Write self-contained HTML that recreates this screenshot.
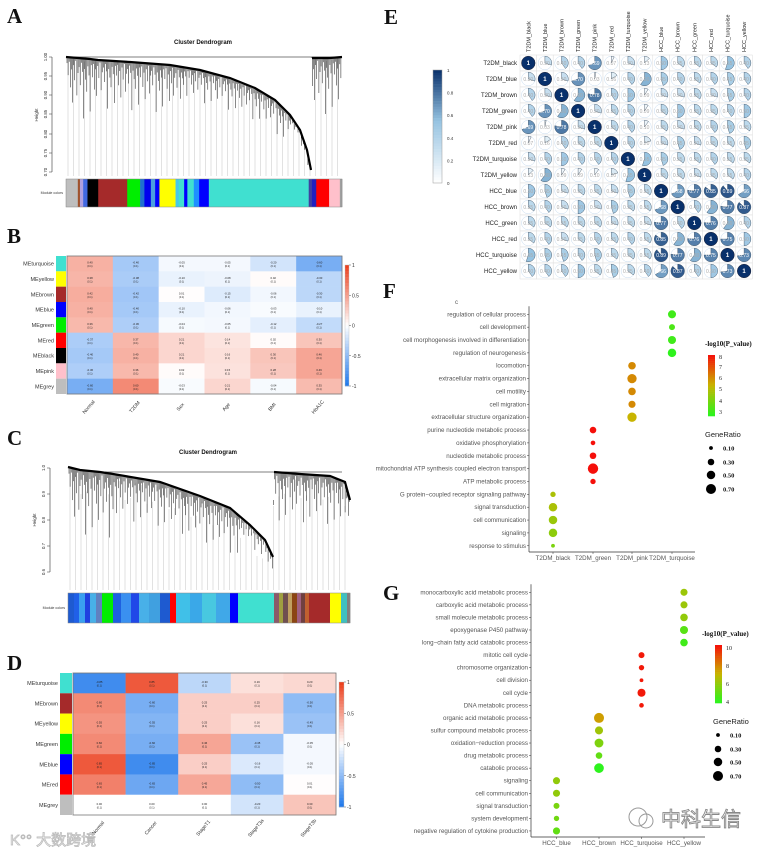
<!DOCTYPE html>
<html><head><meta charset="utf-8">
<style>
html,body{margin:0;padding:0;background:#fff;}
svg{display:block;font-family:"Liberation Sans",Arial,sans-serif;}
.lbl{font-family:"Liberation Serif",serif;font-weight:bold;font-size:21px;fill:#111;}
</style></head>
<body>
<svg id="fig" width="762" height="852" viewBox="0 0 762 852">
<rect width="762" height="852" fill="#fff"/>
<text class="lbl" x="7" y="23">A</text>
<text class="lbl" x="7" y="243">B</text>
<text class="lbl" x="7" y="445">C</text>
<text class="lbl" x="7" y="670">D</text>
<text class="lbl" x="384" y="24">E</text>
<text class="lbl" x="383" y="298">F</text>
<text class="lbl" x="383" y="600">G</text>
<g id="gA"></g>
<g id="gB"></g>
<g id="gC"></g>
<g id="gD"></g>
<g id="gE"></g>
<g id="gF"></g>
<g id="gG"></g>
<g>
<text x="10" y="845" font-size="15" fill="none" stroke="#bbb" stroke-width="0.8" font-family="'Liberation Sans','Noto Sans CJK SC',sans-serif">K°° 大数跨境</text>
</g>
<g>
<circle cx="638" cy="817" r="9" fill="none" stroke="#999" stroke-width="1"/>
<circle cx="646" cy="821" r="7" fill="none" stroke="#999" stroke-width="1"/>
<text x="661" y="826" font-size="20" fill="none" stroke="#888" stroke-width="0.9" font-family="'Liberation Sans','Noto Sans CJK SC',sans-serif">中科生信</text>
</g>
</svg>
<script>
// ---------- data ----------
const moduleA = [["#bebebe",11],["#a0522d",2],["#b0a0e0",3],["#4169e1",4],["#000000",10],["#a52a2a",3],["#a52a2a",24],["#00ee00",12],["#1e6fd0",4],["#0000ee",6],["#4aa0e0",4],["#0000ff",4],["#ffff00",15],["#48c9e8",3],["#40e0d0",5],["#0000ff",3],["#40e0d0",6],["#1e90ff",5],["#0000ff",9],["#40e0d0",93],["#4040a0",3],["#2020c0",4],["#ff0000",12],["#ffc0cb",10],["#a0a0a0",2]];
const moduleC = [["#1e5ad0",6],["#2060e8",5],["#3aa0f0",6],["#2040e0",5],["#48b0e8",6],["#6080c0",6],["#00ee00",11],["#1e60e0",8],["#3a90f0",10],["#2048e8",8],["#48b0e8",10],["#40a0e0",11],["#1e5ad0",10],["#ff0000",6],["#40c0e8",14],["#3aa8e8",12],["#48c8e0",14],["#40a8e8",14],["#0000ff",8],["#40e0d0",36],["#8b5a6a",5],["#a0a040",4],["#705050",5],["#c0a060",4],["#8b4513",5],["#a06080",4],["#704040",4],["#c06030",4],["#a52a2a",4],["#a52a2a",17],["#ffff00",11],["#40c0c0",6],["#808080",3]];

const rowsB = ["MEturquoise","MEyellow","MEbrown","MEblue","MEgreen","MEred","MEblack","MEpink","MEgrey"];
const rowColB = ["#40e0d0","#ffff00","#a52a2a","#0000ff","#00ee00","#ff0000","#000000","#ffc0cb","#bebebe"];
const colsB = ["Normal","T2DM","Sex","Age","BMI","HbA1C"];
const valsB = [
 [0.4,-0.4,-0.05,-0.05,-0.2,-0.6],
 [0.38,-0.38,-0.1,-0.08,0.02,-0.3],
 [0.42,-0.42,0.01,-0.15,-0.06,-0.3],
 [0.4,-0.4,-0.1,-0.06,-0.03,-0.1],
 [0.36,-0.36,-0.04,-0.05,-0.12,-0.27],
 [-0.37,0.37,0.21,0.14,0.02,0.3],
 [-0.4,0.4,0.21,0.16,0.3,0.46],
 [-0.36,0.36,0.02,0.15,0.28,0.46],
 [-0.6,0.6,-0.03,0.21,-0.04,0.35]];

const rowsD = ["MEturquoise","MEbrown","MEyellow","MEgreen","MEblue","MEred","MEgrey"];
const rowColD = ["#40e0d0","#a52a2a","#ffff00","#00ee00","#0000ff","#ff0000","#bebebe"];
const colsD = ["Normal","Cancer","StageT1","StageT3a","StageT3b"];
const valsD = [
 [-0.85,0.85,-0.3,0.16,0.2],
 [0.6,-0.6,0.25,0.25,-0.5],
 [0.55,-0.55,0.25,0.16,-0.45],
 [0.6,-0.6,0.46,-0.45,-0.05],
 [0.85,-0.85,0.25,-0.16,-0.05],
 [0.65,-0.65,0.45,-0.5,0.01],
 [0.0,0.0,0.0,-0.2,0.3]];
const scaleTicks = ["1","0.5","0","-0.5","-1"];

const namesE = ["T2DM_black","T2DM_blue","T2DM_brown","T2DM_green","T2DM_pink","T2DM_red","T2DM_turquoise","T2DM_yellow","HCC_blue","HCC_brown","HCC_green","HCC_red","HCC_turquoise","HCC_yellow"];
const corrE = [
 [1,0.3,0.4,0.4,0.69,0.07,0.3,0.13,0.5,0.35,0.35,0.35,0.55,0.4],
 [0.3,1,0.3,0.7,0.03,0.16,0.4,0.6,0.45,0.4,0.35,0.4,0.45,0.4],
 [0.4,0.3,1,0.6,0.78,0.4,0.5,0.09,0.3,0.3,0.35,0.3,0.45,0.4],
 [0.4,0.7,0.6,1,0.3,0.35,0.4,0.09,0.35,0.5,0.35,0.35,0.4,0.5],
 [0.69,0.03,0.78,0.3,1,0.35,0.4,0.1,0.35,0.3,0.35,0.4,0.45,0.35],
 [0.07,0.16,0.4,0.35,0.35,1,0.4,0.2,0.3,0.45,0.3,0.35,0.35,0.45],
 [0.3,0.4,0.5,0.4,0.4,0.4,1,0.55,0.45,0.35,0.35,0.4,0.35,0.35],
 [0.13,0.6,0.09,0.09,0.1,0.2,0.55,1,0.35,0.35,0.3,0.35,0.35,0.4],
 [0.5,0.45,0.3,0.35,0.35,0.3,0.45,0.35,1,0.68,0.77,0.85,0.89,0.66],
 [0.35,0.4,0.3,0.5,0.3,0.45,0.35,0.35,0.68,1,0.4,0.6,0.77,0.87],
 [0.35,0.35,0.35,0.35,0.35,0.3,0.35,0.3,0.77,0.4,1,0.76,0.6,0.4],
 [0.35,0.4,0.3,0.35,0.4,0.35,0.4,0.35,0.85,0.6,0.76,1,0.75,0.5],
 [0.55,0.45,0.45,0.4,0.45,0.35,0.35,0.35,0.89,0.77,0.6,0.75,1,0.73],
 [0.4,0.4,0.4,0.5,0.35,0.45,0.35,0.4,0.66,0.87,0.4,0.5,0.73,1]];
const ticksE = ["1","0.8","0.6","0.4","0.2","0"];

const groupsF = ["T2DM_black","T2DM_green","T2DM_pink","T2DM_turquoise"];
const termsF = ["regulation of cellular process","cell development","cell morphogenesis involved in differentiation","regulation of neurogenesis","locomotion","extracellular matrix organization","cell motility","cell migration","extracellular structure organization","purine nucleotide metabolic process","oxidative phosphorylation","nucleotide metabolic process","mitochondrial ATP synthesis coupled electron transport","ATP metabolic process","G protein\u2212coupled receptor signaling pathway","signal transduction","cell communication","signaling","response to stimulus"];
const groupIdxF = [3,3,3,3,2,2,2,2,2,1,1,1,1,1,0,0,0,0,0];
const ratioF = [0.45,0.25,0.45,0.5,0.4,0.6,0.4,0.35,0.6,0.3,0.15,0.3,0.75,0.2,0.2,0.5,0.5,0.5,0.1];
const pvalF = [3,3.2,3,2.7,6,6,6,6,5.3,8,8,8,8,8,4.8,4.8,4.5,4.3,4];
const legendPF = ["8","7","6","5","4","3"];

const groupsG = ["HCC_blue","HCC_brown","HCC_turquoise","HCC_yellow"];
const termsG = ["monocarboxylic acid metabolic process","carboxylic acid metabolic process","small molecule metabolic process","epoxygenase P450 pathway","long\u2212chain fatty acid catabolic process","mitotic cell cycle","chromosome organization","cell division","cell cycle","DNA metabolic process","organic acid metabolic process","sulfur compound metabolic process","oxidation\u2212reduction process","drug metabolic process","catabolic process","signaling","cell communication","signal transduction","system development","negative regulation of cytokine production"];
const groupIdxG = [3,3,3,3,3,2,2,2,2,2,1,1,1,1,1,0,0,0,0,0];
const ratioG = [0.35,0.35,0.4,0.45,0.4,0.25,0.2,0.1,0.45,0.15,0.7,0.45,0.55,0.3,0.65,0.35,0.35,0.25,0.2,0.35];
const pvalG = [6.2,6.2,6,4.8,4.3,10.3,10.3,10.3,10.3,10.3,7.6,6.3,5.6,5,3.9,6,6,5.5,5.3,5];
const legendPG = ["10","8","6","4"];
const ratioLegend = ["0.10","0.30","0.50","0.70"];
const ratioLegendVals = [0.1,0.3,0.5,0.7];

// ---------- helpers ----------
const NS = "http://www.w3.org/2000/svg";
function mk(tag, parent){ const e=document.createElementNS(NS,tag); parent.appendChild(e); return e; }
function set(e, o){ for(const k in o) e.setAttribute(k,o[k]); return e; }
function txt(parent, s, x, y, size, fill, anchor, extra){
  const t=mk("text",parent); set(t,{x:x,y:y,"font-size":size,fill:fill||"#333","text-anchor":anchor||"start"});
  if(extra) set(t,extra); t.textContent=s; return t;
}
function mix(a,b,t){ return "rgb("+a.map((v,i)=>Math.round(v+(b[i]-v)*t)).join(",")+")"; }
function divColor(v){ return v<0 ? mix([255,255,255],[30,120,235],Math.min(1,-v)) : mix([255,255,255],[235,60,25],Math.min(1,v)); }
function interp(pts,x){ for(let i=0;i<pts.length-1;i++){ if(x>=pts[i][0]&&x<=pts[i+1][0]){ const t=(x-pts[i][0])/(pts[i+1][0]-pts[i][0]); return pts[i][1]+t*(pts[i+1][1]-pts[i][1]); } } return pts[pts.length-1][1]; }

// ---------- dendrograms ----------
const dropPattern=[4,12,3,20,8,30,5,15,2,25,10,6,18,3,9,40,7,14,22,5,11,35];
function dendro(gid, cfg){
  const g=document.getElementById(gid);
  const title=txt(g,"Cluster Dendrogram",cfg.titleX,cfg.titleY,6,"#111","middle",{"font-weight":"bold"});
  
  
  const ax=mk("line",g); set(ax,{x1:cfg.axX,x2:cfg.axX,y1:cfg.ticks[0][1],y2:cfg.ticks[cfg.ticks.length-1][1],stroke:"#333","stroke-width":0.6});
  
  
  cfg.ticks.forEach(t=>{
    const l=mk("line",g); set(l,{x1:cfg.axX-3,x2:cfg.axX,y1:t[1],y2:t[1],stroke:"#333","stroke-width":0.5});
    txt(g,t[0],cfg.axX-5,t[1],4.3,"#333","middle",{transform:"rotate(-90 "+(cfg.axX-5)+" "+t[1]+")"});
  });
  const yl=txt(g,"Height",cfg.axX-14,cfg.hY,4.5,"#333","middle",{transform:"rotate(-90 "+(cfg.axX-14)+" "+cfg.hY+")"});
  
  
  for(let x=cfg.x0+2;x<cfg.x1;x+=5.5){
    const curve = x<=cfg.split ? cfg.left : cfg.right;
    const top=interp(curve,x)+dropPattern[Math.round(x)%dropPattern.length]*0.6;
    const l=mk("line",g); set(l,{x1:x,x2:x,y1:top,y2:cfg.leafBot,stroke:"#cfcfcf","stroke-width":0.6});
  }
  const tb=mk("line",g); set(tb,{x1:cfg.topBar[0],x2:cfg.topBar[1],y1:cfg.topBar[2],y2:cfg.topBar[2],stroke:"#555","stroke-width":0.7});
  let i=0;
  for(let x=cfg.x0+1;x<cfg.x1;x+=1.1){
    const curve = x<=cfg.split ? cfg.left : cfg.right;
    const y=interp(curve,x);
    const d=dropPattern[i%dropPattern.length]*cfg.dropScale(x);
    const l=mk("line",g); set(l,{x1:x,x2:x,y1:y,y2:y+d,stroke:"#111","stroke-width":0.5});
    i++;
  }
  [cfg.left,cfg.right].forEach(c=>{
    const p=mk("polyline",g); set(p,{points:c.map(q=>q.join(",")).join(" "),fill:"none",stroke:"#000","stroke-width":2.2});
  });
  const tot=cfg.mods.reduce((s,m)=>s+m[1],0);
  let cx=cfg.x0;
  cfg.mods.forEach(m=>{
    const w=m[1]/tot*(cfg.x1-cfg.x0);
    const r=mk("rect",g); set(r,{x:cx,y:cfg.barY,width:w+0.3,height:cfg.barH,fill:m[0]});
    
    
    cx+=w;
  });
  const ob=mk("rect",g); set(ob,{x:cfg.x0,y:cfg.barY,width:cfg.x1-cfg.x0,height:cfg.barH,fill:"none",stroke:"#888","stroke-width":0.5});
  const ml=txt(g,"Module colors",cfg.x0-3,cfg.barY+cfg.barH/2+1,3.6,"#333","end");
  
  
}
dendro("gA",{titleX:203,titleY:44,axX:52,hY:115,
  ticks:[["1.00",57],["0.95",76],["0.90",95],["0.85",114],["0.80",134],["0.75",153],["0.70",172]],
  x0:66,x1:342,split:311,leafBot:176,topBar:[66,342,57],
  left:[[66,57],[90,59],[98,60],[130,62],[170,65],[200,70],[230,78],[255,88],[275,100],[290,115],[300,130],[307,150],[311,170]],
  right:[[312,58],[330,58],[342,57]],
  dropScale:x=> x<95?1.5:(x<180?1.2:(x<290?0.8:(x<312?0.3:1.4))),
  mods:moduleA,barY:179,barH:28});
dendro("gC",{titleX:208,titleY:454,axX:50,hY:520,
  ticks:[["1.0",468],["0.9",494],["0.8",520],["0.7",546],["0.6",572]],
  x0:68,x1:350,split:273,leafBot:590,topBar:[105,342,472],
  left:[[68,467],[80,470],[100,472],[113,474],[160,482],[200,496],[230,508],[250,525],[265,540],[273,557]],
  right:[[274,472],[300,474],[330,476],[345,482],[350,500]],
  dropScale:x=> x<115?1.6:(x<240?1.1:(x<274?0.5:1.2)),
  mods:moduleC,barY:593,barH:30});

// ---------- heatmaps ----------
function heat(gid,cfg){
  const g=document.getElementById(gid);
  const nr=cfg.rows.length, nc=cfg.cols.length;
  const cw=(cfg.x1-cfg.x0)/nc, ch=(cfg.y1-cfg.y0)/nr;
  cfg.vals.forEach((row,r)=>{
    const sq=mk("rect",g); set(sq,{x:cfg.sx,y:cfg.y0+r*ch,width:cfg.x0-cfg.sx-1,height:ch,fill:cfg.rowCols[r]});
    
    
    const rl=txt(g,cfg.rows[r],cfg.sx-2,cfg.y0+r*ch+ch/2+2,5.5,"#333","end");
    
    
    row.forEach((v,c)=>{
      const cell=mk("rect",g); set(cell,{x:cfg.x0+c*cw,y:cfg.y0+r*ch,width:cw+0.3,height:ch+0.3,fill:divColor(v)});
      
      
      txt(g,v.toFixed(2),cfg.x0+c*cw+cw/2,cfg.y0+r*ch+ch/2,2.8,"#222","middle");
      txt(g,"(0.1)",cfg.x0+c*cw+cw/2,cfg.y0+r*ch+ch/2+3.5,2.5,"#222","middle");
    });
  });
  const fr=mk("rect",g); set(fr,{x:cfg.x0,y:cfg.y0,width:cfg.x1-cfg.x0,height:cfg.y1-cfg.y0,fill:"none",stroke:"#777","stroke-width":0.8});
  cfg.cols.forEach((c,i)=>{
    const x=cfg.x0+i*cw+cw/2, y=cfg.y1+14;
    const t=txt(g,c,x,y,5,"#333","middle",{transform:"rotate(-50 "+x+" "+y+")"});
    
    
  });
  const steps=40, bh=(cfg.cb[3]-cfg.cb[1])/steps;
  for(let i=0;i<steps;i++){
    const r=mk("rect",g); set(r,{x:cfg.cb[0],y:cfg.cb[1]+i*bh,width:cfg.cb[2],height:bh+0.3,fill:divColor(1-2*(i+0.5)/steps)});
  }
  const cbf=mk("rect",g); set(cbf,{x:cfg.cb[0],y:cfg.cb[1],width:cfg.cb[2],height:cfg.cb[3]-cfg.cb[1],fill:"none",stroke:"#bbb","stroke-width":0.4});
  
  
  scaleTicks.forEach((s,i)=>{
    const y=cfg.cb[1]+i*(cfg.cb[3]-cfg.cb[1])/4;
    const l=mk("line",g); set(l,{x1:cfg.cb[0]+cfg.cb[2],x2:cfg.cb[0]+cfg.cb[2]+2,y1:y,y2:y,stroke:"#555","stroke-width":0.5});
    txt(g,s,cfg.cb[0]+cfg.cb[2]+3,y+2,5,"#333");
  });
}
heat("gB",{rows:rowsB,rowCols:rowColB,cols:colsB,vals:valsB,x0:67,x1:342,y0:256,y1:394,sx:56,cb:[345,265,4,386]});
heat("gD",{rows:rowsD,rowCols:rowColD,cols:colsD,vals:valsD,x0:73,x1:336,y0:673,y1:815,sx:60,cb:[339,682,5,807]});

// ---------- correlation matrix E ----------
(function(){
  const g=document.getElementById("gE");
  const x0=520, y0=55, cw=16.6, ch=16;
  const blues=v=> v<0.55 ? mix([255,255,255],[150,195,225],v/0.55) : mix([150,195,225],[8,48,107],(v-0.55)/0.45);
  namesE.forEach((n,i)=>{
    const rl=txt(g,n,x0-3,y0+i*ch+ch/2+2,6,"#222","end");
    
    
    const cx=x0+i*cw+cw/2+2, cy=y0-3;
    const cl=txt(g,n,cx,cy,5.5,"#222","start",{transform:"rotate(-90 "+cx+" "+cy+")"});
    
    
  });
  corrE.forEach((row,r)=>{
    row.forEach((v,c)=>{
      const x=x0+c*cw, y=y0+r*ch;
      const cell=mk("rect",g); set(cell,{x:x,y:y,width:cw,height:ch,fill:"#fff",stroke:"#ddd","stroke-width":0.5});
      
      
      const cx=x+cw/2, cy=y+ch/2, R=6.8;
      const circ=mk("circle",g); set(circ,{cx:cx,cy:cy,r:R,fill:"none",stroke:"#c6dbef","stroke-width":0.5});
      const a=Math.min(v,0.9999)*2*Math.PI;
      const ex=cx+R*Math.sin(a), ey=cy-R*Math.cos(a);
      let pie;
      if(v>=0.9999){ pie=mk("circle",g); set(pie,{cx:cx,cy:cy,r:R,fill:blues(1),stroke:"#223","stroke-width":0.5}); }
      else { pie=mk("path",g); set(pie,{d:"M"+cx+","+cy+" L"+cx+","+(cy-R)+" A"+R+","+R+" 0 "+(v>0.5?1:0)+" 1 "+ex+","+ey+" Z",fill:blues(v),stroke:"#3a4a5a","stroke-width":0.4}); }
      
      
      const lab = v>=0.9999 ? "1" : v.toFixed(2);
      txt(g,lab,cx,cy+2,v>=0.9999?6:5,v>=0.9999||v>0.65?"#fff":"#aaa","middle",v>=0.9999?{"font-weight":"bold"}:{});
    });
  });
  const cb=[433,70,9,183], steps=40, bh=(cb[3]-cb[1])/steps;
  for(let i=0;i<steps;i++){ const r=mk("rect",g); set(r,{x:cb[0],y:cb[1]+i*bh,width:cb[2],height:bh+0.3,fill:blues(1-(i+0.5)/steps)}); }
  const f=mk("rect",g); set(f,{x:cb[0],y:cb[1],width:cb[2],height:cb[3]-cb[1],fill:"none",stroke:"#999","stroke-width":0.5});
  
  
  ticksE.forEach((s,i)=>{ const y=cb[1]+i*(cb[3]-cb[1])/5; txt(g,s,cb[0]+cb[2]+5,y+2,4.5,"#333"); });
})();

// ---------- dot plots ----------
function pColor(v,lo,hi){
  const t=Math.max(0,Math.min(1,(v-lo)/(hi-lo)));
  return t<0.5 ? mix([40,245,30],[200,180,0],t*2) : mix([200,180,0],[245,15,10],(t-0.5)*2);
}
function rad(r){ return 6*Math.sqrt(r); }
function dotplot(gid,cfg){
  const g=document.getElementById(gid);
  const yOf=i=>cfg.yTop+i*cfg.yStep, xOf=j=>cfg.xCols[j];
  const ax=mk("line",g); set(ax,{x1:cfg.axX,x2:cfg.axX,y1:cfg.yTop-8,y2:cfg.axY,stroke:"#333","stroke-width":0.7});
  
  
  const bx=mk("line",g); set(bx,{x1:cfg.axX,x2:cfg.axR,y1:cfg.axY,y2:cfg.axY,stroke:"#333","stroke-width":0.7});
  
  
  cfg.terms.forEach((t,i)=>{
    const l=mk("line",g); set(l,{x1:cfg.axX-2,x2:cfg.axX,y1:yOf(i),y2:yOf(i),stroke:"#333","stroke-width":0.5});
    const tl=txt(g,t,cfg.axX-3,yOf(i)+2,6.2,"#555","end");
    
    
    const d=mk("circle",g); set(d,{cx:xOf(cfg.gi[i]),cy:yOf(i),r:rad(cfg.ratio[i]),fill:pColor(cfg.p[i],cfg.lo,cfg.hi)});
    
    
  });
  cfg.groups.forEach((s,j)=>{
    const l=mk("line",g); set(l,{x1:xOf(j),x2:xOf(j),y1:cfg.axY,y2:cfg.axY+2,stroke:"#333","stroke-width":0.5});
    const t=txt(g,s,xOf(j),cfg.axY+8,6.2,"#555","middle");
    
    
  });
  const lt=txt(g,"-log10(P_value)",cfg.leg.tx,cfg.leg.ty,7,"#111","start",{"font-family":"Liberation Serif,serif","font-weight":"bold"});
  
  
  const b=cfg.leg.bar, steps=30, bh=(b[3]-b[1])/steps;
  for(let i=0;i<steps;i++){ const r=mk("rect",g); set(r,{x:b[0],y:b[1]+i*bh,width:b[2],height:bh+0.3,fill:pColor(cfg.hi-(cfg.hi-cfg.lo)*(i+0.5)/steps,cfg.lo,cfg.hi)}); }
  cfg.leg.labs.forEach((s,i)=>{ txt(g,s,b[0]+b[2]+4,cfg.leg.labY[i]+2,6,"#222","start",{"font-family":"Liberation Serif,serif"}); });
  const gr=txt(g,"GeneRatio",cfg.leg.gx,cfg.leg.gy,7.5,"#222");
  
  
  ratioLegendVals.forEach((v,i)=>{
    const y=cfg.leg.dy[i];
    const c=mk("circle",g); set(c,{cx:cfg.leg.dx,cy:y,r:rad(v),fill:"#000"});
    
    
    txt(g,ratioLegend[i],cfg.leg.dx+12,y+2.5,6.5,"#111","start",{"font-family":"Liberation Serif,serif","font-weight":"bold"});
  });
}
dotplot("gF",{terms:termsF,gi:groupIdxF,ratio:ratioF,p:pvalF,groups:groupsF,lo:2.6,hi:8,
  yTop:314.3,yStep:12.86,xCols:[553,593,632,672],axX:529,axY:552,axR:695,
  leg:{tx:705,ty:346,bar:[708,355,7,416],labs:legendPF,labY:[357,367,378,389,401,412],gx:705,gy:437,dx:711,dy:[448,462,475,489]}});
dotplot("gG",{terms:termsG,gi:groupIdxG,ratio:ratioG,p:pvalG,groups:groupsG,lo:3.8,hi:10.5,
  yTop:592.3,yStep:12.56,xCols:[556.5,599,641.5,684],axX:531,axY:837,axR:705,
  leg:{tx:702,ty:636,bar:[715,645,7,703],labs:legendPG,labY:[648,666,684,702],gx:713,gy:724,dx:718,dy:[735,749,762,776]}});
const cF=txt(document.getElementById("gF"),"c",455,304,6,"#555");


</script>
</body></html>
